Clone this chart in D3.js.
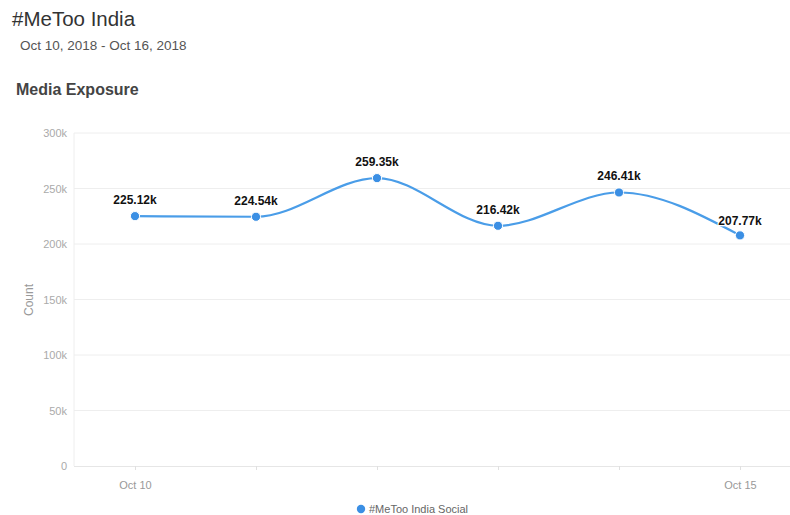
<!DOCTYPE html>
<html>
<head>
<meta charset="utf-8">
<script src="https://cdn.jsdelivr.net/npm/d3@7/dist/d3.min.js"></script>
<style>
  html, body { margin: 0; padding: 0; background: #fff; }
  svg { display: block; font-family: "Liberation Sans", Arial, Helvetica, sans-serif; }
</style>
</head>
<body>
<svg id="chart" width="790" height="515"></svg>
<script>
// Daily media exposure counts for the hashtag
const dates = ["Oct 10", "Oct 11", "Oct 12", "Oct 13", "Oct 14", "Oct 15"];
const exposure = [225120, 224540, 259350, 216420, 246410, 207770];
const valueLabels = ["225.12k", "224.54k", "259.35k", "216.42k", "246.41k", "207.77k"];
const shownDateLabels = ["Oct 10", "Oct 15"];
const yTicks = [0, 50000, 100000, 150000, 200000, 250000, 300000];
const seriesName = "#MeToo India Social";

const svg = d3.select("#chart");
const plot = { left: 74, right: 790, top: 133, bottom: 466 };
const blue = "#3b8fe4";

// Header texts
svg.append("text").attr("x", 12).attr("y", 26)
  .attr("font-size", 20.5).attr("fill", "#333").text("#MeToo India");
svg.append("text").attr("x", 20).attr("y", 50)
  .attr("font-size", 13.5).attr("fill", "#555").text("Oct 10, 2018 - Oct 16, 2018");
svg.append("text").attr("x", 16).attr("y", 95)
  .attr("font-size", 16).attr("font-weight", "bold").attr("fill", "#444").text("Media Exposure");

// Scales
const x = d3.scalePoint().domain(dates).range([135, 740]);
const y = d3.scaleLinear().domain([0, 300000]).range([plot.bottom, plot.top]);

// Horizontal gridlines
svg.append("g").selectAll("line").data(yTicks.filter(d => d > 0)).join("line")
  .attr("x1", plot.left).attr("x2", plot.right)
  .attr("y1", d => y(d)).attr("y2", d => y(d))
  .attr("stroke", "#eeeeee").attr("stroke-width", 1);

// Left axis line
svg.append("line").attr("x1", plot.left).attr("x2", plot.left)
  .attr("y1", plot.top).attr("y2", plot.bottom)
  .attr("stroke", "#eeeeee");

// Y axis
const yAxis = d3.axisLeft(y).tickValues(yTicks).tickSize(0).tickPadding(7)
  .tickFormat(d => d === 0 ? "0" : (d / 1000) + "k");
const gy = svg.append("g").attr("transform", `translate(${plot.left},0)`).call(yAxis);
gy.select(".domain").remove();
gy.selectAll("text").attr("font-size", 11).attr("fill", "#aaa")
  .attr("font-family", "Liberation Sans, Arial, sans-serif");

// Y axis title
svg.append("text").attr("transform", "translate(33,300) rotate(-90)")
  .attr("text-anchor", "middle").attr("font-size", 12).attr("fill", "#999").text("Count");

// X axis
const xAxis = d3.axisBottom(x).tickSizeInner(4).tickSizeOuter(0).tickPadding(11)
  .tickFormat(d => shownDateLabels.includes(d) ? d : "");
const gx = svg.append("g").attr("transform", `translate(0,${plot.bottom})`).call(xAxis);
gx.select(".domain").attr("d", `M${plot.left},0.5H${plot.right}`).attr("stroke", "#e6e6e6");
gx.selectAll(".tick line").attr("stroke", "#e0e0e0");
gx.selectAll("text").attr("font-size", 11).attr("fill", "#999")
  .attr("font-family", "Liberation Sans, Arial, sans-serif");

// Series line
const pts = dates.map((d, i) => ({ date: d, value: exposure[i], label: valueLabels[i] }));
const line = d3.line().x(d => x(d.date)).y(d => y(d.value)).curve(d3.curveMonotoneX);
svg.append("path").datum(pts).attr("d", line)
  .attr("fill", "none").attr("stroke", "#4a9de8").attr("stroke-width", 2.2);

// Markers
svg.append("g").selectAll("circle").data(pts).join("circle")
  .attr("cx", d => x(d.date)).attr("cy", d => y(d.value)).attr("r", 4.6)
  .attr("fill", blue).attr("stroke", "#fff").attr("stroke-width", 1);

// Value labels (the last one sits closer to its marker)
svg.append("g").selectAll("text").data(pts).join("text")
  .attr("x", d => x(d.date))
  .attr("y", (d, i) => y(d.value) - (i === pts.length - 1 ? 10 : 12))
  .attr("text-anchor", "middle").attr("font-size", 12).attr("font-weight", "bold")
  .attr("fill", "#111").attr("stroke", "#fff").attr("stroke-width", 2.5)
  .attr("paint-order", "stroke").text(d => d.label);

// Legend
const legend = svg.append("g").attr("transform", "translate(361,509)");
legend.append("circle").attr("r", 4.2).attr("fill", blue);
legend.append("text").attr("x", 8).attr("y", 4).attr("font-size", 11)
  .attr("fill", "#666").text(seriesName);
</script>
</body>
</html>
